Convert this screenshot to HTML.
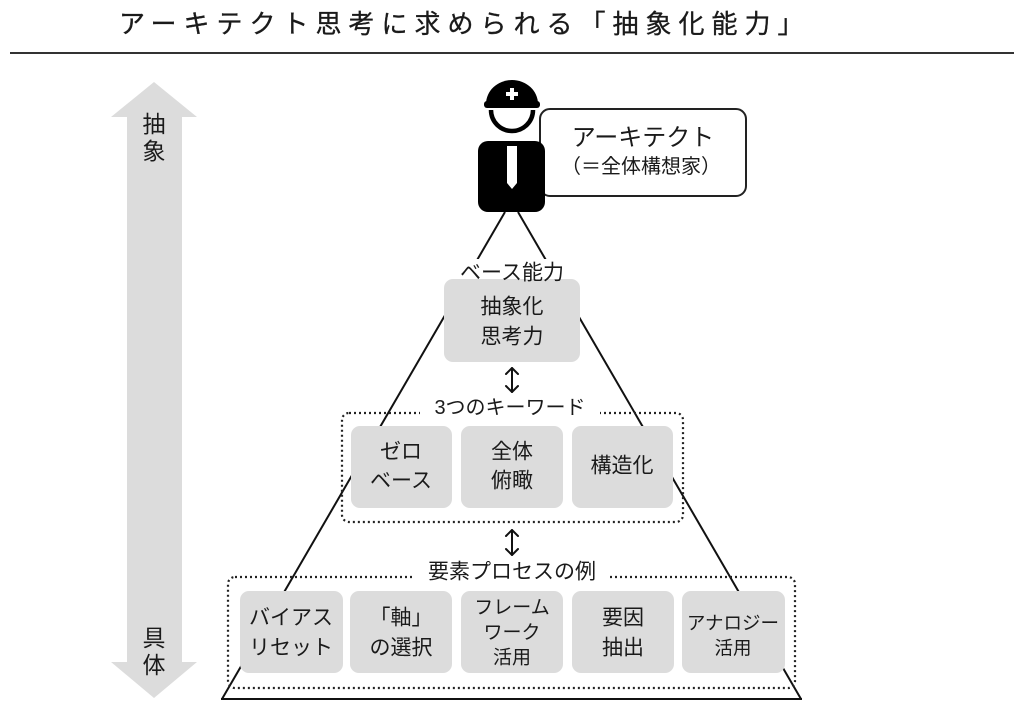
<!DOCTYPE html>
<html><head><meta charset="utf-8">
<style>
html,body{margin:0;padding:0;background:#fff;}
svg{display:block;}
text{font-family:"Liberation Sans","Noto Sans CJK JP",sans-serif;fill:#1a1a1a;}
</style></head>
<body>
<svg width="1024" height="711" viewBox="0 0 1024 711" xmlns="http://www.w3.org/2000/svg">
  <!-- title -->
  <text x="119" y="24" font-size="26" dominant-baseline="central" letter-spacing="7" stroke="#1a1a1a" stroke-width="0.3">アーキテクト思考に求められる「抽象化能力」</text>
  <line x1="10" y1="53" x2="1014" y2="53" stroke="#333" stroke-width="2"/>

  <!-- left gray arrow -->
  <polygon points="154,82 197,117 182,117 182,662 197,662 154,698 111,662 127,662 127,117 111,117" fill="#dcdcdc"/>
  <text x="154" y="124" font-size="23" text-anchor="middle" dominant-baseline="central">抽</text>
  <text x="154" y="151" font-size="23" text-anchor="middle" dominant-baseline="central">象</text>
  <text x="154" y="638" font-size="23" text-anchor="middle" dominant-baseline="central">具</text>
  <text x="154" y="665" font-size="23" text-anchor="middle" dominant-baseline="central">体</text>

  <!-- triangle lines -->
  <line x1="505" y1="212" x2="222" y2="699" stroke="#111" stroke-width="2"/>
  <line x1="518" y1="212" x2="801" y2="699" stroke="#111" stroke-width="2"/>
  <line x1="221" y1="699" x2="802" y2="699" stroke="#111" stroke-width="2"/>

  <!-- bubble -->
  <rect x="540" y="109" width="206" height="87" rx="10" ry="10" fill="#fff" stroke="#222" stroke-width="2"/>
  <text x="643" y="138" font-size="24" text-anchor="middle" dominant-baseline="central">アーキテクト</text>
  <text x="641" y="167" font-size="20" text-anchor="middle" dominant-baseline="central">（＝全体構想家）</text>

  <!-- person -->
  <path d="M486,104 A26,24 0 0 1 538,104 Z" fill="#000"/>
  <rect x="484" y="101" width="56" height="7" rx="3" fill="#000"/>
  <rect x="510" y="88" width="4" height="12" fill="#fff"/>
  <rect x="506" y="92" width="12" height="4" fill="#fff"/>
  <path d="M491,110 A21,21 0 0 0 533,110" fill="none" stroke="#000" stroke-width="4.5"/>
  <rect x="478" y="141" width="67" height="71" rx="10" ry="10" fill="#000"/>
  <polygon points="507,146 517,146 517,183 512,189 507,183" fill="#fff"/>

  <!-- label backgrounds -->
  <rect x="456" y="259" width="112" height="21" fill="#fff"/>

  <!-- dotted group boxes -->
  <rect x="342" y="413" width="341" height="109" rx="7" ry="7" fill="none" stroke="#222" stroke-width="2.2" stroke-dasharray="2 3"/>
  <rect x="228" y="577" width="567" height="111" rx="7" ry="7" fill="none" stroke="#222" stroke-width="2.2" stroke-dasharray="2 3"/>
  <rect x="420" y="398" width="180" height="22" fill="#fff"/>
  <rect x="415" y="560" width="194" height="24" fill="#fff"/>

  <!-- base box -->
  <rect x="444" y="279" width="136" height="83" rx="9" ry="9" fill="#dcdcdc"/>
  <text x="512" y="273" font-size="21" text-anchor="middle" dominant-baseline="central">ベース能力</text>
  <text x="512" y="307" font-size="21" text-anchor="middle" dominant-baseline="central">抽象化</text>
  <text x="512" y="337" font-size="21" text-anchor="middle" dominant-baseline="central">思考力</text>

  <!-- double arrows -->
  <g stroke="#111" stroke-width="2" fill="none" stroke-linecap="round" stroke-linejoin="round">
    <line x1="512" y1="368" x2="512" y2="392"/>
    <polyline points="506,374 512,368 518,374"/>
    <polyline points="506,386 512,392 518,386"/>
    <line x1="512" y1="530" x2="512" y2="555"/>
    <polyline points="506,536 512,530 518,536"/>
    <polyline points="506,549 512,555 518,549"/>
  </g>

  <text x="510" y="408" font-size="20" text-anchor="middle" dominant-baseline="central">3つのキーワード</text>
  <text x="512" y="572" font-size="21" text-anchor="middle" dominant-baseline="central">要素プロセスの例</text>

  <!-- row 1 boxes -->
  <g fill="#dcdcdc">
    <rect x="351" y="426" width="101" height="82" rx="9" ry="9"/>
    <rect x="461" y="426" width="102" height="82" rx="9" ry="9"/>
    <rect x="572" y="426" width="101" height="82" rx="9" ry="9"/>
  </g>
  <text x="401" y="452" font-size="21" text-anchor="middle" dominant-baseline="central">ゼロ</text>
  <text x="401" y="481" font-size="21" text-anchor="middle" dominant-baseline="central">ベース</text>
  <text x="512" y="452" font-size="21" text-anchor="middle" dominant-baseline="central">全体</text>
  <text x="512" y="481" font-size="21" text-anchor="middle" dominant-baseline="central">俯瞰</text>
  <text x="622" y="466" font-size="21" text-anchor="middle" dominant-baseline="central">構造化</text>

  <!-- row 2 boxes -->
  <g fill="#dcdcdc">
    <rect x="240" y="591" width="103" height="82" rx="9" ry="9"/>
    <rect x="350" y="591" width="102" height="82" rx="9" ry="9"/>
    <rect x="461" y="591" width="102" height="82" rx="9" ry="9"/>
    <rect x="572" y="591" width="102" height="82" rx="9" ry="9"/>
    <rect x="682" y="591" width="103" height="82" rx="9" ry="9"/>
  </g>
  <text x="291" y="618" font-size="21" text-anchor="middle" dominant-baseline="central">バイアス</text>
  <text x="291" y="648" font-size="21" text-anchor="middle" dominant-baseline="central">リセット</text>
  <text x="401" y="618" font-size="21" text-anchor="middle" dominant-baseline="central">「軸」</text>
  <text x="401" y="648" font-size="21" text-anchor="middle" dominant-baseline="central">の選択</text>
  <text x="512" y="608" font-size="19" text-anchor="middle" dominant-baseline="central">フレーム</text>
  <text x="512" y="633" font-size="19" text-anchor="middle" dominant-baseline="central">ワーク</text>
  <text x="512" y="658" font-size="19" text-anchor="middle" dominant-baseline="central">活用</text>
  <text x="623" y="618" font-size="21" text-anchor="middle" dominant-baseline="central">要因</text>
  <text x="623" y="648" font-size="21" text-anchor="middle" dominant-baseline="central">抽出</text>
  <text x="733" y="623" font-size="18.5" text-anchor="middle" dominant-baseline="central">アナロジー</text>
  <text x="733" y="648" font-size="18.5" text-anchor="middle" dominant-baseline="central">活用</text>
</svg>
</body></html>
